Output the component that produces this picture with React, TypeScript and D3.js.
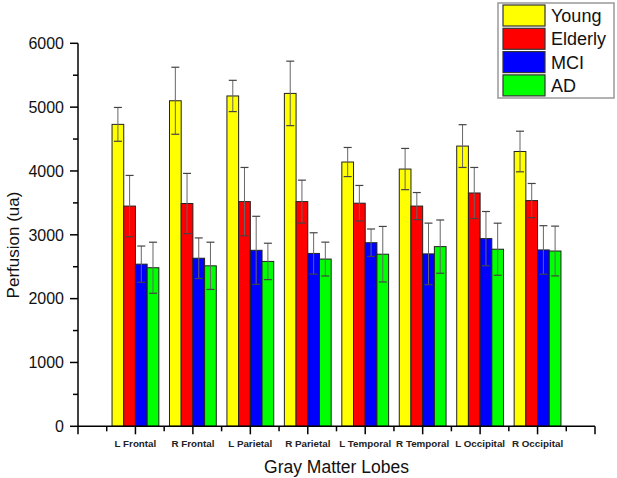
import React from "react";
import * as d3 from "d3";

const categories = ["L Frontal", "R Frontal", "L Parietal", "R Parietal", "L Temporal", "R Temporal", "L Occipital", "R Occipital"];
const seriesNames = ["Young", "Elderly", "MCI", "AD"];
const seriesColors = ["#FFFF00", "#FF0000", "#0000FF", "#00FF00"];
const young = [4730, 5100, 5175, 5215, 4140, 4030, 4390, 4305];
const youngErr = [265, 525, 245, 505, 228, 323, 335, 318];
const elderly = [3450, 3490, 3520, 3520, 3495, 3450, 3655, 3536];
const elderlyErr = [480, 472, 535, 336, 278, 212, 400, 268];
const mci = [2540, 2633, 2757, 2708, 2876, 2701, 2940, 2763];
const mciErr = [284, 318, 533, 324, 215, 482, 425, 380];
const ad = [2484, 2514, 2583, 2620, 2696, 2815, 2774, 2746];
const adErr = [400, 370, 285, 265, 435, 417, 408, 390];
const yTicks = [0, 1000, 2000, 3000, 4000, 5000, 6000];

const W = 617;
const H = 478;
const FONT = "'Liberation Sans', Arial, sans-serif";

export default function App() {
  const x = d3.scaleLinear().domain([0, 9]).range([78, 595]);
  const y = d3.scaleLinear().domain([0, 6000]).range([426.3, 43.3]);
  const bw = 11.7;
  const series = [
    { v: young, e: youngErr },
    { v: elderly, e: elderlyErr },
    { v: mci, e: mciErr },
    { v: ad, e: adErr },
  ];
  const minorY = d3.range(500, 6000, 1000);
  const majorX = d3.range(0, 10);
  const minorX = d3.range(0.5, 9, 1);
  const x0 = x(0);
  const y0 = y(0);

  return (
    <svg width={W} height={H} style={{ position: "absolute", left: 0, top: 0, background: "#fff" }} fontFamily={FONT}>
      {/* bars */}
      {series.map((s, si) =>
        categories.map((c, ci) => {
          const left = x(ci + 1) + (si - 2) * bw;
          const top = y(s.v[ci]);
          return (
            <rect key={`b${si}-${ci}`} x={left} y={top} width={bw} height={y0 - top}
              fill={seriesColors[si]} stroke="#222" strokeWidth={1} />
          );
        })
      )}
      {/* error bars */}
      {series.map((s, si) =>
        categories.map((c, ci) => {
          const cx = x(ci + 1) + (si - 2) * bw + bw / 2;
          const yt = y(s.v[ci] + s.e[ci]);
          const yb = y(s.v[ci] - s.e[ci]);
          return (
            <g key={`e${si}-${ci}`}>
              <line x1={cx} x2={cx} y1={yt} y2={yb} stroke="#666" strokeWidth={1} />
              <line x1={cx - 4} x2={cx + 4} y1={yt} y2={yt} stroke="#444" strokeWidth={1.2} />
              <line x1={cx - 4} x2={cx + 4} y1={yb} y2={yb} stroke="#444" strokeWidth={1.2} />
            </g>
          );
        })
      )}
      {/* y axis */}
      <line x1={x0} x2={x0} y1={y(6000)} y2={y0} stroke="#000" strokeWidth={1.5} />
      {yTicks.map((t) => (
        <g key={`yt${t}`}>
          <line x1={x0 - 8} x2={x0} y1={y(t)} y2={y(t)} stroke="#000" strokeWidth={1.5} />
          <text x={x0 - 14} y={y(t)} dy="0.36em" textAnchor="end" fontSize={16} fill="#111">{t}</text>
        </g>
      ))}
      {minorY.map((t) => (
        <line key={`ym${t}`} x1={x0 - 5} x2={x0} y1={y(t)} y2={y(t)} stroke="#000" strokeWidth={1.5} />
      ))}
      {/* x axis */}
      <line x1={x0} x2={x(9)} y1={y0} y2={y0} stroke="#000" strokeWidth={1.5} />
      {majorX.map((t) => (
        <line key={`xt${t}`} x1={x(t)} x2={x(t)} y1={y0} y2={y0 + 8} stroke="#000" strokeWidth={1.5} />
      ))}
      {minorX.map((t) => (
        <line key={`xm${t}`} x1={x(t)} x2={x(t)} y1={y0} y2={y0 + 5} stroke="#000" strokeWidth={1.5} />
      ))}
      {categories.map((c, ci) => (
        <text key={`xl${ci}`} x={x(ci + 1)} y={447} textAnchor="middle" fontSize={9.8} fontWeight="bold" fill="#222">{c}</text>
      ))}
      {/* axis titles */}
      <text x={(x0 + x(9)) / 2} y={473} textAnchor="middle" fontSize={17.5} fill="#111">Gray Matter Lobes</text>
      <text transform={`translate(19,245) rotate(-90)`} textAnchor="middle" fontSize={17} fill="#111">Perfusion (ua)</text>
      {/* legend */}
      <rect x={498} y={3} width={116} height={95} fill="#fff" stroke="#999" strokeWidth={1.5} />
      {seriesNames.map((n, i) => (
        <g key={`lg${i}`}>
          <rect x={503} y={5 + i * 23.3} width={42} height={21} fill={seriesColors[i]} stroke="#333" strokeWidth={1.2} />
          <text x={551} y={5 + i * 23.3 + 17} fontSize={18} fill="#111">{n}</text>
        </g>
      ))}
    </svg>
  );
}
